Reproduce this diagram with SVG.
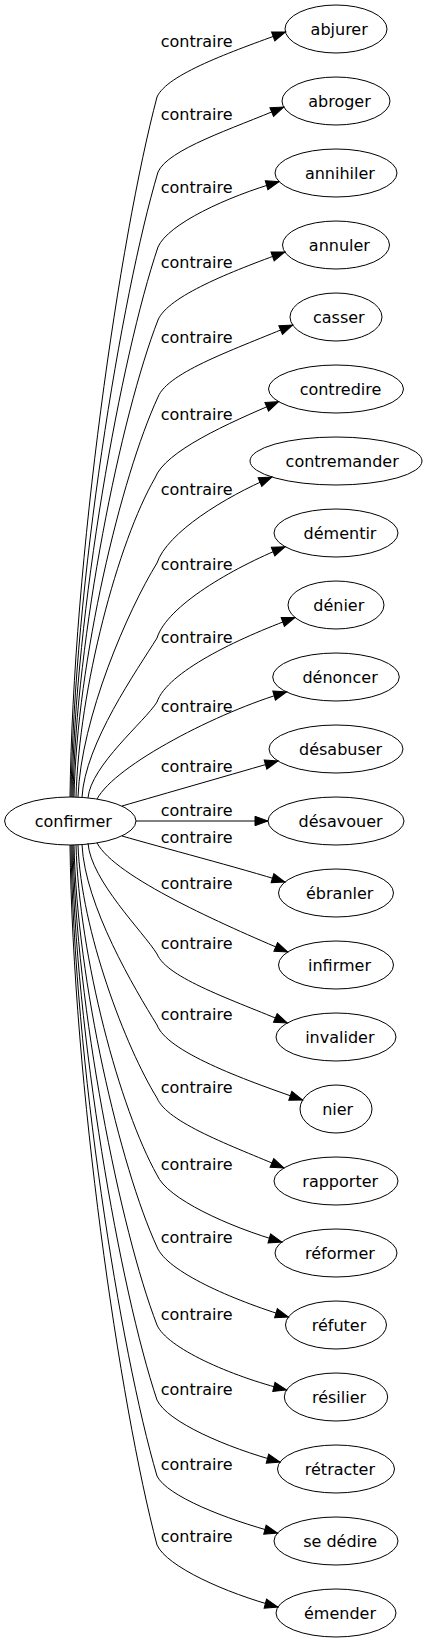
<svg xmlns="http://www.w3.org/2000/svg" width="427" height="1643" viewBox="0 0 427 1643">
<style>
.n ellipse{fill:none;stroke:#000;stroke-width:1}
text{font-family:"DejaVu Sans",sans-serif;font-size:16px;fill:#000;text-anchor:middle}
.e path{fill:none;stroke:#000;stroke-width:1;marker-end:url(#ah)}
</style>
<defs>
<marker id="ah" markerUnits="userSpaceOnUse" markerWidth="14" markerHeight="10" refX="13" refY="4.7" orient="auto" overflow="visible"><polygon points="0,0 13,4.7 0,9.4" fill="#000" stroke="#000" stroke-width="1"/></marker>
</defs>
<rect width="427" height="1643" fill="#fff"/>
<g id="edges" class="e">
<g id="e0"><path d="M70,797 C73,559 120,237 157,97 C167,74.3 231.1,51.8 285.4,32"/><text x="196.7" y="46.7">contraire</text></g>
<g id="e1"><path d="M71,797 C74,584.5 121,297 158,172 C168,149.3 231.6,129.1 283.7,107"/><text x="196.7" y="120">contraire</text></g>
<g id="e2"><path d="M72,797 C75,610 121,357 158,247 C168,224.1 226.7,196.7 279.1,181.7"/><text x="196.7" y="193">contraire</text></g>
<g id="e3"><path d="M73,797 C76,634.8 121,415.4 158,320 C168,296.2 231.1,271.5 284.8,252"/><text x="196.7" y="268">contraire</text></g>
<g id="e4"><path d="M74,797 C77,661 121,477 158,397 C168,371.8 236.8,348.7 292.6,325"/><text x="196.7" y="343">contraire</text></g>
<g id="e5"><path d="M76,797 C79,688.6 118,541.8 155,478 C165,451.3 227.4,423.5 278.7,401.7"/><text x="196.7" y="420">contraire</text></g>
<g id="e6"><path d="M78,797 C81,717.6 128.1,609.8 157,563 C167,532.9 224.3,497.2 271.9,477"/><text x="196.7" y="495">contraire</text></g>
<g id="e7"><path d="M82,797.4 C85,743.4 137.4,669.8 157,638 C167,606 231.7,568.3 285.1,546.7"/><text x="196.7" y="569.5">contraire</text></g>
<g id="e8"><path d="M88,797.9 C91,765.3 145.2,721.2 157,702 C167,672.4 236.6,638.7 295,617.5"/><text x="196.7" y="643.3">contraire</text></g>
<g id="e9"><path d="M97,799.1 C115,765 219.3,711.3 286.6,692"/><text x="196.7" y="711.7">contraire</text></g>
<g id="e10"><path d="M122,806 C160,795 240,772 278,761"/><text x="196.7" y="771.7">contraire</text></g>
<g id="e11"><path d="M136,821 L268,821"/><text x="196.7" y="816">contraire</text></g>
<g id="e12"><path d="M122,836 C160,847 240,868 284.9,882"/><text x="196.7" y="843.3">contraire</text></g>
<g id="e13"><path d="M97,842.9 C115,877 223.3,924.7 287.7,952"/><text x="196.7" y="889">contraire</text></g>
<g id="e14"><path d="M88,843.1 C91,880.8 143.3,931.8 157,954 C167,978.2 233.4,1000.1 287.3,1023"/><text x="196.7" y="949">contraire</text></g>
<g id="e15"><path d="M82,844.6 C85,905.8 134.8,989 157,1025 C167,1051.3 240.7,1078.7 302.6,1100"/><text x="196.7" y="1020">contraire</text></g>
<g id="e16"><path d="M78,844.8 C81,930.8 125.8,1047.4 157,1098 C167,1122.5 231.3,1145.7 283.9,1168"/><text x="196.7" y="1093.3">contraire</text></g>
<g id="e17"><path d="M76,844.9 C79,957.1 120,1109 157,1175 C167,1198.5 227.8,1226.5 281.8,1242"/><text x="196.7" y="1170">contraire</text></g>
<g id="e18"><path d="M74,845 C77,981.7 120,1166.6 157,1247 C167,1271.5 231.9,1299.7 288.4,1317"/><text x="196.7" y="1243.3">contraire</text></g>
<g id="e19"><path d="M73,845 C76,1008.2 120,1229 157,1325 C167,1347.8 229.9,1375.9 286.5,1390"/><text x="196.7" y="1320">contraire</text></g>
<g id="e20"><path d="M72,845 C75,1033.7 120,1289 157,1400 C167,1421.7 226.5,1447.7 280,1462"/><text x="196.7" y="1395">contraire</text></g>
<g id="e21"><path d="M71,845 C74,1059.5 120,1349.8 157,1476 C167,1496 225.1,1519 277.5,1533"/><text x="196.7" y="1469.5">contraire</text></g>
<g id="e22"><path d="M70,845 C73,1083 120,1405 157,1545 C167,1566.7 225.4,1592.9 277.9,1607"/><text x="196.7" y="1542.3">contraire</text></g>
</g>
<g id="confirmer" class="n"><ellipse cx="70.3" cy="821" rx="65.7" ry="24"/><text x="73.3" y="827">confirmer</text></g>
<g id="abjurer" class="n"><ellipse cx="336" cy="29" rx="51" ry="24"/><text x="339.2" y="35">abjurer</text></g>
<g id="abroger" class="n"><ellipse cx="336" cy="101" rx="54" ry="24"/><text x="339.5" y="107">abroger</text></g>
<g id="annihiler" class="n"><ellipse cx="336" cy="173" rx="61" ry="24"/><text x="339.9" y="179">annihiler</text></g>
<g id="annuler" class="n"><ellipse cx="336" cy="245" rx="53.5" ry="24"/><text x="339.4" y="251">annuler</text></g>
<g id="casser" class="n"><ellipse cx="336" cy="317" rx="46" ry="24"/><text x="338.8" y="323">casser</text></g>
<g id="contredire" class="n"><ellipse cx="336" cy="389" rx="67.5" ry="24"/><text x="340.5" y="395">contredire</text></g>
<g id="contremander" class="n"><ellipse cx="336" cy="461" rx="86" ry="24"/><text x="342.2" y="467">contremander</text></g>
<g id="dementir" class="n"><ellipse cx="336" cy="533" rx="62" ry="24"/><text x="340" y="539">démentir</text></g>
<g id="denier" class="n"><ellipse cx="336" cy="605" rx="48" ry="24"/><text x="338.8" y="611">dénier</text></g>
<g id="denoncer" class="n"><ellipse cx="336" cy="677" rx="63.3" ry="24"/><text x="340.1" y="683">dénoncer</text></g>
<g id="desabuser" class="n"><ellipse cx="336" cy="749" rx="67" ry="24"/><text x="340.6" y="755">désabuser</text></g>
<g id="desavouer" class="n"><ellipse cx="336" cy="821" rx="68" ry="24"/><text x="340.6" y="827">désavouer</text></g>
<g id="ebranler" class="n"><ellipse cx="336" cy="893" rx="57.5" ry="24"/><text x="339.7" y="899">ébranler</text></g>
<g id="infirmer" class="n"><ellipse cx="336" cy="965" rx="57.5" ry="24"/><text x="339.5" y="971">infirmer</text></g>
<g id="invalider" class="n"><ellipse cx="336" cy="1037" rx="60" ry="24"/><text x="339.8" y="1043">invalider</text></g>
<g id="nier" class="n"><ellipse cx="336" cy="1109" rx="36" ry="24"/><text x="337.7" y="1115">nier</text></g>
<g id="rapporter" class="n"><ellipse cx="336" cy="1181" rx="62" ry="24"/><text x="340.2" y="1187">rapporter</text></g>
<g id="reformer" class="n"><ellipse cx="336" cy="1253" rx="61" ry="24"/><text x="339.9" y="1259">réformer</text></g>
<g id="refuter" class="n"><ellipse cx="336" cy="1325" rx="50.5" ry="24"/><text x="339" y="1331">réfuter</text></g>
<g id="resilier" class="n"><ellipse cx="336" cy="1397" rx="51.7" ry="24"/><text x="339" y="1403">résilier</text></g>
<g id="retracter" class="n"><ellipse cx="336" cy="1469" rx="58.5" ry="24"/><text x="339.9" y="1475">rétracter</text></g>
<g id="sededire" class="n"><ellipse cx="336" cy="1541" rx="62" ry="24"/><text x="340.1" y="1547">se dédire</text></g>
<g id="emender" class="n"><ellipse cx="336" cy="1613" rx="60" ry="24"/><text x="340" y="1619">émender</text></g>
</svg>
